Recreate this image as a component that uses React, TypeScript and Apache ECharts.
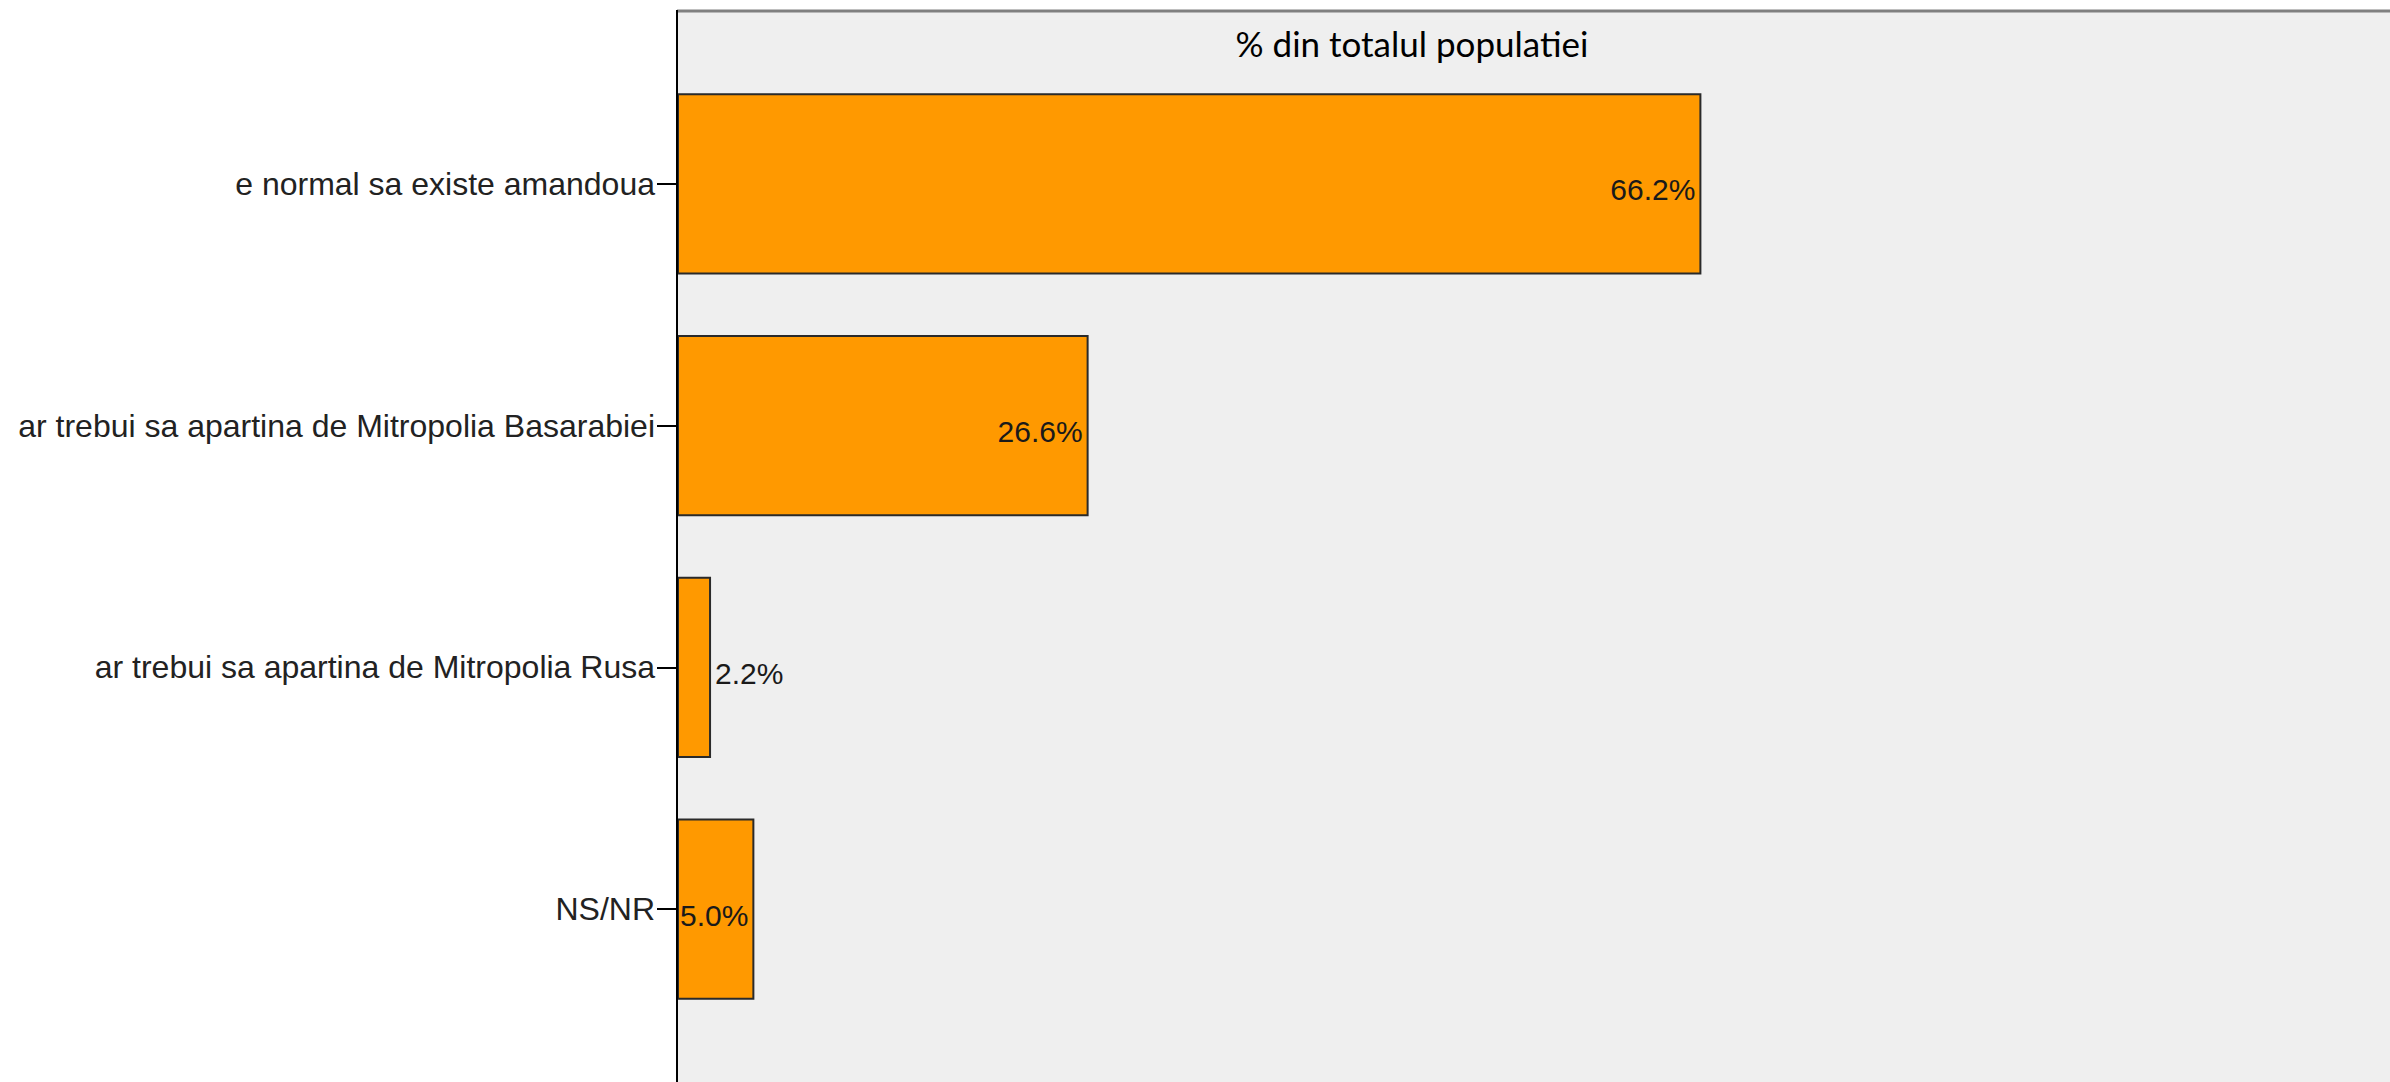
import React, { useEffect, useRef } from "react";
import * as echarts from "echarts";

const categories = [
  "e normal sa existe amandoua",
  "ar trebui sa apartina de Mitropolia Basarabiei",
  "ar trebui sa apartina de Mitropolia Rusa",
  "NS/NR",
];
const percentValues = [66.2, 26.6, 2.2, 5.0];
const chartTitle = "% din totalul populatiei";

const W = 2390;
const H = 1082;
const PLOT_LEFT = 677;
const PLOT_TOP = 10;

export default function App() {
  const ref = useRef<HTMLDivElement>(null);
  useEffect(() => {
    if (!ref.current) return;
    const chart = echarts.init(ref.current, undefined, { renderer: "svg" });
    chart.setOption({
      animation: false,
      backgroundColor: "#ffffff",
      title: {
        text: chartTitle,
        left: 1407,
        top: 20,
        textAlign: "center",
        textStyle: { fontFamily: "Lato", fontSize: 35, fontWeight: "normal", color: "#000" },
      },
      grid: { left: PLOT_LEFT, right: 0, top: 63, bottom: 52, containLabel: false },
      xAxis: {
        type: "value",
        min: 0,
        max: 110.7,
        show: false,
        splitLine: { show: false },
      },
      yAxis: {
        type: "category",
        data: categories,
        inverse: true,
        axisLine: { show: false },
        axisTick: {
          show: true,
          alignWithLabel: true,
          length: 20,
          lineStyle: { color: "#000", width: 2 },
        },
        axisLabel: {
          margin: 22,
          fontFamily: "Liberation Sans, Arial, sans-serif",
          fontSize: 32,
          color: "#222",
          padding: [14, 0, 0, 0],
        },
      },
      graphic: [
        {
          type: "rect",
          z: -100,
          silent: true,
          shape: { x: PLOT_LEFT, y: PLOT_TOP, width: W - PLOT_LEFT, height: H - PLOT_TOP },
          style: { fill: "#efefef", stroke: "none" },
        },
        {
          type: "line",
          z: 100,
          silent: true,
          shape: { x1: PLOT_LEFT, y1: PLOT_TOP + 1, x2: W, y2: PLOT_TOP + 1 },
          style: { stroke: "#808080", lineWidth: 3 },
        },
        {
          type: "line",
          z: 100,
          silent: true,
          shape: { x1: PLOT_LEFT, y1: PLOT_TOP, x2: PLOT_LEFT, y2: H },
          style: { stroke: "#000", lineWidth: 2 },
        },
      ],
      series: [
        {
          type: "bar",
          barCategoryGap: "25%",
          itemStyle: { color: "#ff9900", borderColor: "#2a2a2a", borderWidth: 2 },
          data: percentValues.map((v) => ({
            value: v,
            label: { position: v < 4 ? "right" : "insideRight", distance: v < 4 ? 4 : 6 },
          })),
          label: {
            show: true,
            formatter: (p: any) => `${Number(p.value).toFixed(1)}%`,
            fontFamily: "Liberation Sans, Arial, sans-serif",
            fontSize: 30,
            color: "#1a1a1a",
            offset: [0, 6],
          },
        },
      ],
    });
    return () => chart.dispose();
  }, []);
  return (
    <div
      ref={ref}
      style={{ position: "fixed", left: 0, top: 0, width: W, height: H }}
    />
  );
}
